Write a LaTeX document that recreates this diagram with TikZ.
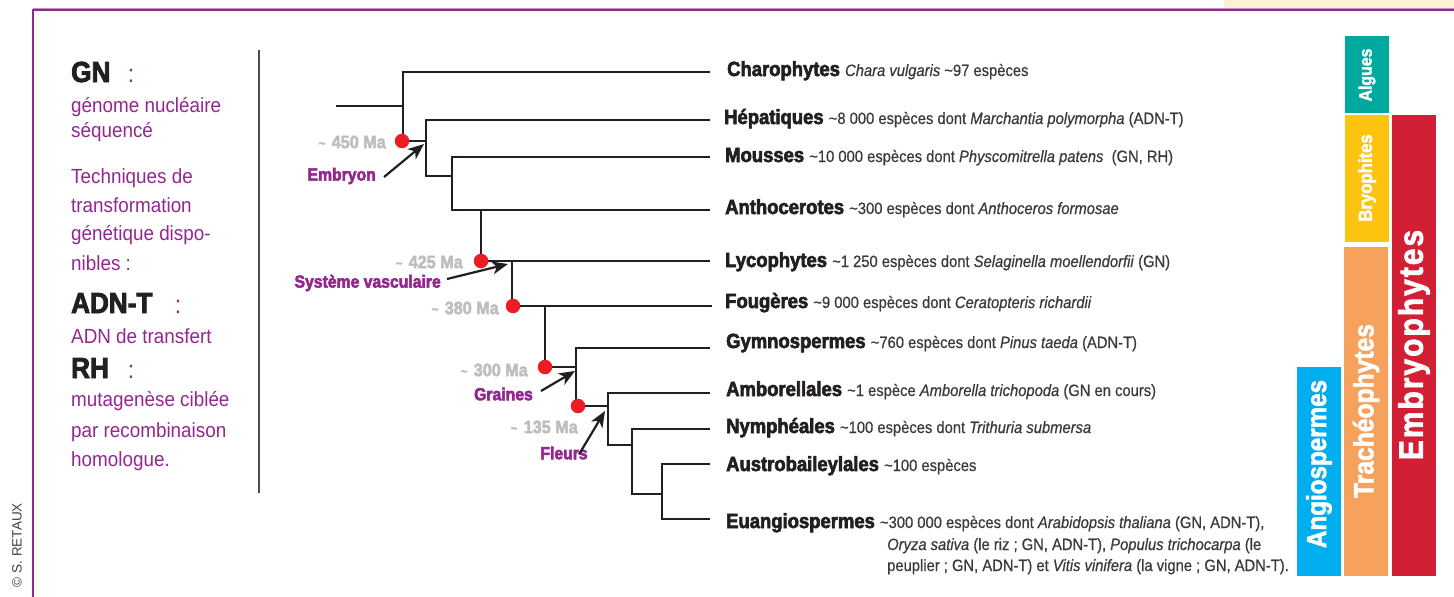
\documentclass[tikz,border=0pt]{standalone}
\usepackage{fontspec}
\setmainfont{Liberation Sans}[FakeStretch=0.92]
\newfontfamily\blk{Liberation Sans}[FakeStretch=0.9, BoldFeatures={FakeBold=3}]
\newfontfamily\desc{Liberation Sans}[FakeStretch=0.9, FakeBold=0.6]
\newfontfamily\barf{Liberation Sans}[FakeStretch=0.88, BoldFeatures={FakeBold=2}]
\newfontfamily\plain{Liberation Sans}
\usetikzlibrary{arrows.meta}
\definecolor{purp}{HTML}{93278F}
\definecolor{lpurp}{HTML}{C58CC2}
\definecolor{ink}{HTML}{231F20}
\definecolor{dgray}{HTML}{3A3A3A}
\definecolor{dategray}{HTML}{BEBEBE}
\definecolor{dotred}{HTML}{ED1C24}
\definecolor{cream}{HTML}{FDF0D5}
\definecolor{cAlg}{HTML}{00A99D}
\definecolor{cBry}{HTML}{FDC311}
\definecolor{cTra}{HTML}{F7A25C}
\definecolor{cAng}{HTML}{00AEEF}
\definecolor{cEmb}{HTML}{D31F34}
\tikzset{
  branch/.style={line width=2.8pt, line cap=rect, line join=miter, ink},
  dot/.style={circle, fill=dotred, minimum size=14.5pt, inner sep=0pt},
  arr/.style={line width=2.2pt, ink, -{Stealth[length=16pt,width=13pt,inset=4.5pt]}},
  taxon/.style={anchor=base west, inner sep=0pt, text=ink, font=\blk\bfseries\fontsize{20.5}{22}\selectfont},
  date/.style={anchor=east, inner sep=0pt, text=dategray, font=\blk\bfseries\fontsize{18}{19}\selectfont},
  trait/.style={anchor=east, text=purp, font=\blk\bfseries\fontsize{17.5}{19}\selectfont},
  leg/.style={anchor=base west, inner sep=0pt, text=purp, font=\fontsize{20.5}{22}\selectfont},
  legc/.style={anchor=base, inner sep=0pt, text=purp, font=\fontsize{25}{26}\selectfont},
  legb/.style={anchor=base west, inner sep=0pt, text=ink, font=\blk\bfseries\fontsize{29}{30}\selectfont},
  bartext/.style={rotate=90, text=white, inner sep=0pt},
}
\newcommand{\ds}[1]{{\desc\mdseries\fontsize{16.4}{18}\selectfont\color{dgray}#1}}
\newcommand{\tld}{\raisebox{0.05ex}{\fontsize{13}{13}\selectfont\textasciitilde}\hspace{0.35em}}
\begin{document}
\begin{tikzpicture}[x=1pt,y=-1pt]
\useasboundingbox (0,0) rectangle (1454,597);
% frame
\fill[cream] (1224,0) rectangle (1454,8);
\draw[lpurp, line width=0.8pt] (33,8) -- (1454,8);
\draw[purp, line width=2.6pt] (33,10) -- (1454,10);
\draw[purp, line width=2pt] (33,9) -- (33,597);
% copyright
\node[rotate=90, anchor=east, inner sep=0pt, text=black!75, font=\plain\fontsize{13.5}{15}\selectfont] (copy) at (17,503) {© S. RETAUX};
% legend
\draw[black!70, line width=1.2pt] (259,50) -- (259,493);
\node[legb] (gn) at (71,82) {GN};
\node[legc] (gnc) at (131,82) {:};
\node[leg] (l1) at (71,112) {génome nucléaire};
\node[leg] (l2) at (71,137) {séquencé};
\node[leg] (l3) at (71,183) {Techniques de};
\node[leg] (l4) at (71,212) {transformation};
\node[leg] (l5) at (71,240) {génétique dispo-};
\node[leg] (l6) at (71,270) {nibles :};
\node[legb] (adn) at (71,313) {ADN-T};
\node[legc] (adnc) at (178,313) {:};
\node[leg] (l7) at (71,343) {ADN de transfert};
\node[legb] (rh) at (71,378) {RH};
\node[legc] (rhc) at (131,378) {:};
\node[leg] (l8) at (71,406) {mutagenèse ciblée};
\node[leg] (l9) at (71,437) {par recombinaison};
\node[leg] (l10) at (71,466) {homologue.};
% tree coordinates
\coordinate (root) at (337,106);
\coordinate (rj) at (403,106);
\coordinate (n1) at (403,141);
\coordinate (n2) at (426,141);
\coordinate (n3) at (452,176);
\coordinate (n4) at (481,261);
\coordinate (n5) at (512,306);
\coordinate (n6) at (545,367);
\coordinate (n7) at (576,406);
\coordinate (n8) at (608,445);
\coordinate (n9) at (632,494);
\coordinate (t1) at (709,72);
\coordinate (t2) at (709,120);
\coordinate (t3) at (709,157);
\coordinate (t4) at (709,210);
\coordinate (t5) at (709,261);
\coordinate (t6) at (711,306);
\coordinate (t7) at (709,348);
\coordinate (t8) at (709,393);
\coordinate (t9) at (709,429);
\coordinate (t10) at (709,464);
\coordinate (t11) at (709,519);
% branches
\draw[branch] (root) -- (rj);
\draw[branch] (t1) -| (n1) -- (n2);
\draw[branch] (t2) -| (n2 |- 0,176) -- (n3);
\draw[branch] (t3) -| (n3 |- 0,210) -- (t4);
\draw[branch] (n4 |- 0,210) -- (n4) -- (t5);
\draw[branch] (n5 |- 0,261) -- (n5) -- (t6);
\draw[branch] (n6 |- 0,306) -- (n6) -- (576,367);
\draw[branch] (t7) -| (n7) -- (608,406);
\draw[branch] (t8) -| (n8) -- (632,445);
\draw[branch] (t9) -| (n9) -- (662,494);
\draw[branch] (t10) -| (662,519) -- (t11);
% dots
\node[dot] (d1) at (402,141) {};
\node[dot] (d2) at (481,261) {};
\node[dot] (d3) at (513,306) {};
\node[dot] (d4) at (545,367) {};
\node[dot] (d5) at (578,406) {};
% dates
\node[date] (a450) at (386,142) {\tld 450 Ma};
\node[date] (a425) at (463,262) {\tld 425 Ma};
\node[date] (a380) at (499,308) {\tld 380 Ma};
\node[date] (a300) at (528,370) {\tld 300 Ma};
\node[date] (a135) at (578,427) {\tld 135 Ma};
% traits
\node[trait, inner sep=0pt] (emb) at (376,176) {Embryon};
\node[trait, inner sep=0pt] (vasc) at (441,283) {Système vasculaire};
\node[trait, inner sep=0pt] (gra) at (533,394) {Graines};
\node[trait, inner sep=0pt, anchor=center] (fle) at (564,453) {Fleurs};
\coordinate (e1) at (424,144);
\coordinate (e2) at (508,264);
\coordinate (e3) at (575,371);
\coordinate (e4) at (605,411);
\draw[arr] ([xshift=8pt,yshift=-1pt]emb.east) -- (e1);
\draw[arr] ([xshift=6pt,yshift=4pt]vasc.east) -- (e2);
\draw[arr] ([xshift=8pt,yshift=3pt]gra.east) -- (e3);
\draw[arr] ([xshift=15pt,yshift=-8pt]fle.north) -- (e4);
% taxa
\node[taxon] (c1) at (727,76) {Charophytes \ds{\textit{Chara vulgaris} \textasciitilde97 espèces}};
\node[taxon] (c2) at (724,124) {Hépatiques \ds{\textasciitilde8 000 espèces dont \textit{Marchantia polymorpha} (ADN-T)}};
\node[taxon] (c3) at (725,162) {Mousses \ds{\textasciitilde10 000 espèces dont \textit{Physcomitrella patens}\ \ (GN, RH)}};
\node[taxon] (c4) at (725,214) {Anthocerotes \ds{\textasciitilde300 espèces dont \textit{Anthoceros formosae}}};
\node[taxon] (c5) at (725,267) {Lycophytes \ds{\textasciitilde1 250 espèces dont \textit{Selaginella moellendorfii} (GN)}};
\node[taxon] (c6) at (725,308) {Fougères \ds{\textasciitilde9 000 espèces dont \textit{Ceratopteris richardii}}};
\node[taxon] (c7) at (726,348) {Gymnospermes \ds{\textasciitilde760 espèces dont \textit{Pinus taeda} (ADN-T)}};
\node[taxon] (c8) at (726,396) {Amborellales \ds{\textasciitilde1 espèce \textit{Amborella trichopoda} (GN en cours)}};
\node[taxon] (c9) at (726,433) {Nymphéales \ds{\textasciitilde100 espèces dont \textit{Trithuria submersa}}};
\node[taxon] (c10) at (726,471) {Austrobaileylales \ds{\textasciitilde100 espèces}};
\node[taxon] (c11) at (726,528) {Euangiospermes \ds{\textasciitilde300 000 espèces dont \textit{Arabidopsis thaliana} (GN, ADN-T),}};
\node[anchor=base west, inner sep=0pt] (c11b) at (887,550) {\ds{\textit{Oryza sativa} (le riz ; GN, ADN-T), \textit{Populus trichocarpa} (le}};
\node[anchor=base west, inner sep=0pt] (c11c) at (887,571) {\ds{peuplier ; GN, ADN-T) et \textit{Vitis vinifera} (la vigne ; GN, ADN-T).}};
% bars
\fill[cAlg] (1345,36) rectangle (1389,113);
\fill[cBry] (1345,115) rectangle (1389,242);
\fill[cEmb] (1392,115) rectangle (1436,576);
\fill[cTra] (1344,247) rectangle (1388,576);
\fill[cAng] (1297,367) rectangle (1341,576);
\node[bartext, font=\barf\bfseries\fontsize{18}{18}\selectfont] (balg) at (1367,75) {Algues};
\node[bartext, font=\barf\bfseries\fontsize{19}{19}\selectfont] (bbry) at (1367,178) {Bryophites};
\node[bartext, font=\barf\bfseries\fontsize{28}{28}\selectfont] (btra) at (1366,411) {Trachéophytes};
\node[bartext, font=\barf\bfseries\fontsize{27.5}{28}\selectfont] (bang) at (1319,464) {Angiospermes};
\node[bartext, font=\barf\bfseries\fontsize{34}{34}\selectfont] (bemb) at (1414,345) {\addfontfeatures{LetterSpace=6}Embryophytes};
\end{tikzpicture}
\end{document}
